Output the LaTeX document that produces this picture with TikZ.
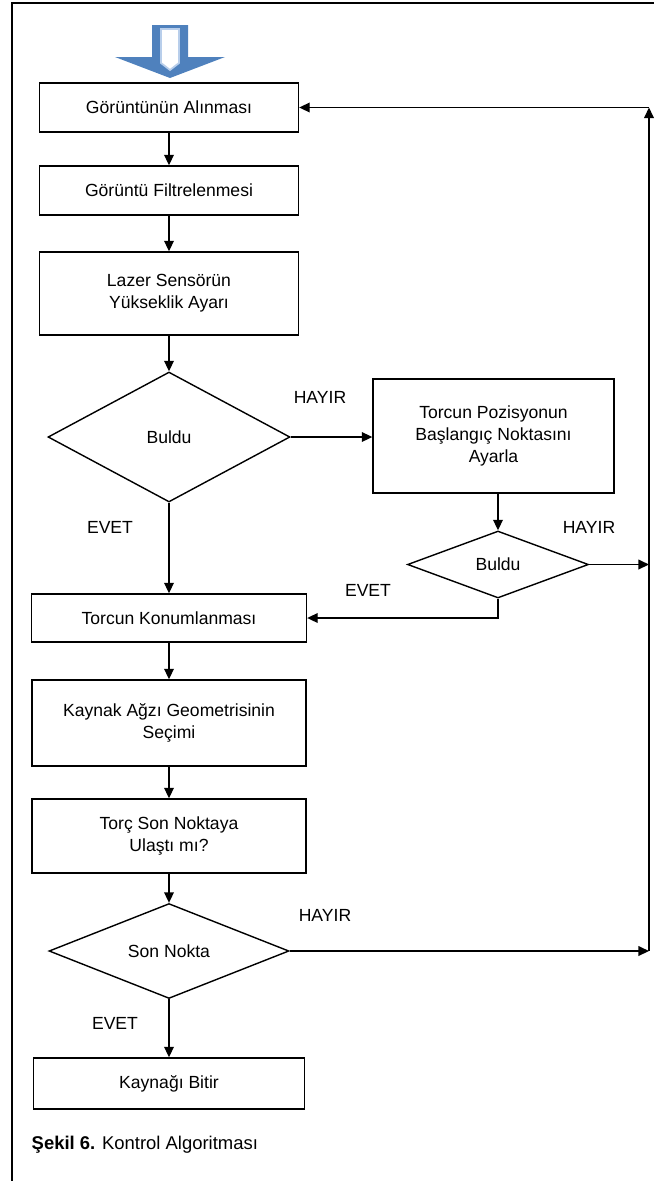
\documentclass[tikz,border=0pt]{standalone}
\usepackage{fontspec}
\setmainfont{Liberation Sans}
\usepackage{xcolor}
\usetikzlibrary{shapes.geometric, arrows.meta, positioning}
\definecolor{startblue}{RGB}{79,129,189}
\definecolor{startlight}{RGB}{184,206,235}

\begin{document}
\begin{tikzpicture}[x=0.02cm, y=-0.02cm, font=\fontsize{10}{12.5}\selectfont,
        >={Triangle[length=6pt, width=5.5pt]}, line width=0.8pt,
        box/.style={draw, rectangle, align=center, inner sep=0pt},
        decision/.style={draw, diamond, align=center, inner sep=0pt},
        lbl/.style={inner sep=0pt}]
        \useasboundingbox (0,0) rectangle (654,1181);
        \draw[line width=0.6pt] (12,1181) -- (12,3) -- (654,3);

        % start arrow
        \fill[startblue] (152,25) -- (188,25) -- (188,57) -- (225,57) -- (170,78)
            -- (115,57) -- (152,57) -- cycle;
        \draw[startlight, fill=white, line width=1pt] (161,29) -- (179,29) -- (179,63)
            -- (170,70) -- (161,63) -- cycle;

        \node[box, minimum width=5.18cm, minimum height=0.98cm] (grab) at (169,107.5) {Görüntünün Alınması};
        \node[box, minimum width=5.18cm, minimum height=0.98cm] (filter) at (169,190.5) {Görüntü Filtrelenmesi};
        \node[box, minimum width=5.18cm, minimum height=1.66cm] (laser) at (169,293.5) {Lazer Sensörün\\Yükseklik Ayarı};
        \node[decision, minimum width=4.84cm, minimum height=2.6cm] (found1) at (169,437) {Buldu};
        \node[box, minimum width=4.82cm, minimum height=2.28cm] (startpos) at (493.5,436) {Torcun Pozisyonun\\Başlangıç Noktasını\\Ayarla};
        \node[decision, minimum width=3.62cm, minimum height=1.34cm] (found2) at (498,564.5) {Buldu};
        \node[box, minimum width=5.5cm, minimum height=0.96cm] (place) at (169,618) {Torcun Konumlanması};
        \node[box, minimum width=5.48cm, minimum height=1.72cm] (geom) at (169,723) {Kaynak Ağzı Geometrisinin\\Seçimi};
        \node[box, minimum width=5.48cm, minimum height=1.48cm] (reached) at (169,836) {Torç Son Noktaya\\Ulaştı mı?};
        \node[decision, minimum width=4.8cm, minimum height=1.7cm] (endpt) at (169,951) {Son Nokta};
        \node[box, minimum width=5.42cm, minimum height=1.02cm] (finish) at (169,1083.5) {Kaynağı Bitir};

        \node[lbl] (no1) at (320,397) {HAYIR};
        \node[lbl] (yes1) at (110,527) {EVET};
        \node[lbl] (no2) at (589,527) {HAYIR};
        \node[lbl] (yes2) at (368,590) {EVET};
        \node[lbl] (no3) at (325,915) {HAYIR};
        \node[lbl] (yes3) at (115,1023) {EVET};

        \node[lbl, anchor=west, font=\fontsize{10.5}{13}\selectfont] (caption) at (31,1145) {\textbf{Şekil 6.} Kontrol Algoritması};

        \coordinate (back) at (649,107.5);

        \path[->]
        (grab) edge (filter)
        (filter) edge (laser)
        (laser) edge (found1)
        (found1) edge (place)
        (place) edge (geom)
        (geom) edge (reached)
        (reached) edge (endpt)
        (endpt) edge (finish);

        \draw[->] (found1.east) -- (found1.east -| startpos.west);
        \draw[->] (found2.north |- startpos.south) -- (found2.north);
        \draw[->] (found2.south) |- (place.east);
        \draw[->] (found2.east) -- (found2.east -| back);
        \draw[->] (endpt.east) -- (endpt.east -| back);
        \draw[->] (endpt.east -| back) -- (back);
        \draw[->] (back) -- (grab.east);
\end{tikzpicture}
\end{document}
